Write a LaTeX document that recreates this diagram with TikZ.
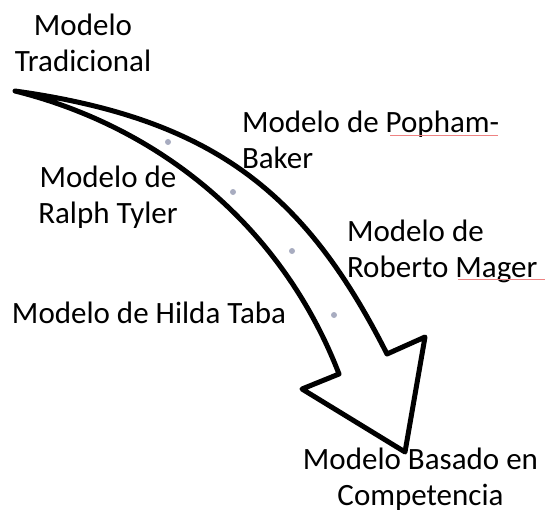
\documentclass[tikz,border=0pt]{standalone}
\usepackage{fontspec}
\setmainfont{Carlito}
\definecolor{dotc}{RGB}{168,172,192}
\definecolor{spellc}{RGB}{238,130,130}
\begin{document}
\begin{tikzpicture}[x=1pt,y=-1pt,
  lbl/.style={font=\fontsize{31}{36}\selectfont, inner sep=0pt, outer sep=0pt},
  dotm/.style={circle, fill=dotc, draw=none, minimum size=6pt, inner sep=0pt},
  arrowline/.style={line width=5pt, line join=round},
  spell/.style={draw=spellc, line width=0.8pt}]
\useasboundingbox (0,0) rectangle (545,513);
% arrow outline
\coordinate (tail) at (15,91);
\coordinate (rj) at (387,354);
\coordinate (rb) at (425,337);
\coordinate (tip) at (405,452);
\coordinate (lb) at (302,389);
\coordinate (lj) at (339,374);
\draw[arrowline] (tail) .. controls (215,119) and (306,194) .. (rj) -- (rb) -- (tip) -- (lb) -- (lj) .. controls (284,231) and (165,128.5) .. (tail) -- cycle;
% dots
\node[dotm] (d1) at (168,142) {};
\node[dotm] (d2) at (233,192) {};
\node[dotm] (d3) at (292,251) {};
\node[dotm] (d4) at (334,315) {};
% labels (base anchor = baseline of the last line)
\node[lbl, anchor=base, align=center] (trad) at (83,72) {Modelo\\Tradicional};
\node[lbl, anchor=base west, align=left] (pop) at (242,168) {Modelo de Popham-\\Baker};
\node[lbl, anchor=base, align=center] (tyl) at (108,223) {Modelo de\\Ralph Tyler};
\node[lbl, anchor=base west, align=left] (mag) at (347,277) {Modelo de\\Roberto Mager};
\node[lbl, anchor=base west] (hil) at (12,323) {Modelo de Hilda Taba};
\node[lbl, anchor=base, align=center] (comp) at (420.5,505) {Modelo Basado en\\Competencia};
% spell-check underlines
\draw[spell] (390,135) -- (498,135);
\draw[spell] (458,279) -- (545,279);
\end{tikzpicture}
\end{document}
